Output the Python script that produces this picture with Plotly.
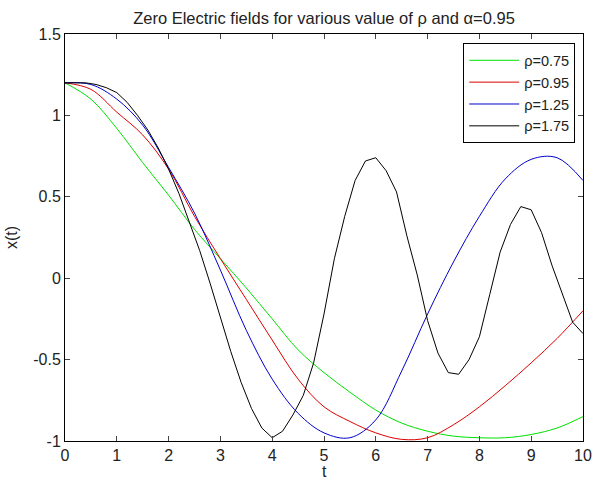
import plotly.graph_objects as go

# ---- data ----
t_smooth = [0, 0.5, 1.0, 1.5, 2.0, 2.5, 3.0, 3.5, 4.0, 4.5, 5.0, 5.5, 6.0, 6.5, 7.0, 7.5, 8.0, 8.5, 9.0, 9.5, 10.0]
x_rho075 = [1.2, 1.10, 0.92, 0.71, 0.51, 0.30, 0.12, -0.06, -0.25, -0.44, -0.58, -0.70, -0.81, -0.89, -0.94, -0.97, -0.98, -0.98, -0.96, -0.92, -0.85]
x_rho095 = [1.2, 1.16, 1.02, 0.88, 0.67, 0.38, 0.12, -0.13, -0.38, -0.62, -0.79, -0.88, -0.95, -0.99, -0.98, -0.90, -0.79, -0.66, -0.52, -0.37, -0.20]
x_rho125 = [1.2, 1.19, 1.10, 0.94, 0.68, 0.40, 0.05, -0.32, -0.62, -0.83, -0.95, -0.98, -0.87, -0.57, -0.22, 0.10, 0.38, 0.61, 0.73, 0.74, 0.60]

t_fine = [0, 0.2, 0.4, 0.6, 0.8, 1.0, 1.2, 1.4, 1.6, 1.8, 2.0, 2.2, 2.4, 2.6, 2.8, 3.0, 3.2, 3.4, 3.6, 3.8,
          4.0, 4.2, 4.4, 4.6, 4.8, 5.0, 5.2, 5.4, 5.6, 5.8, 6.0, 6.2, 6.4, 6.6, 6.8, 7.0, 7.2, 7.4, 7.6, 7.8,
          8.0, 8.2, 8.4, 8.6, 8.8, 9.0, 9.2, 9.4, 9.6, 9.8, 10.0]
x_rho175 = [1.2, 1.2, 1.2, 1.19, 1.17, 1.14, 1.08, 1.00, 0.91, 0.80, 0.67, 0.52, 0.35, 0.17, -0.03, -0.24, -0.45, -0.64, -0.80, -0.92,
            -0.98, -0.94, -0.84, -0.72, -0.52, -0.22, 0.12, 0.38, 0.60, 0.72, 0.74, 0.66, 0.53, 0.26, 0.02, -0.26, -0.46, -0.58, -0.59, -0.50,
            -0.36, -0.10, 0.16, 0.33, 0.44, 0.42, 0.28, 0.08, -0.10, -0.27, -0.34]

series = [
    ("ρ=0.75", t_smooth, x_rho075, "#00e000", "spline"),
    ("ρ=0.95", t_smooth, x_rho095, "#dd0000", "spline"),
    ("ρ=1.25", t_smooth, x_rho125, "#0000cc", "spline"),
    ("ρ=1.75", t_fine, x_rho175, "#000000", "linear"),
]

x_ticks = list(range(0, 11))
y_ticks = [-1, -0.5, 0, 0.5, 1, 1.5]
y_tick_text = ["-1", "-0.5", "0", "0.5", "1", "1.5"]

fig = go.Figure()
for name, tt, vv, col, shape in series:
    fig.add_trace(go.Scatter(x=tt, y=vv, mode="lines", name=name,
                             line=dict(color=col, width=1, shape=shape)))

font = "Liberation Sans, Arial, Helvetica, sans-serif"
plot_h = 481 - 34 - 40
fig.update_layout(
    width=592, height=481,
    margin=dict(l=65, r=9, t=34, b=40),
    paper_bgcolor="white", plot_bgcolor="white",
    font=dict(family=font, size=16, color="#222222"),
    title=dict(text="Zero Electric fields for various value of ρ and α=0.95",
               x=0.5, xanchor="center", xref="paper", y=1 - 18 / 481, yanchor="middle",
               font=dict(size=16.5)),
    showlegend=True,
    legend=dict(x=0.985, y=0.977, xanchor="right", yanchor="top",
                bordercolor="black", borderwidth=1, bgcolor="white",
                font=dict(size=14.5), tracegroupgap=0, itemwidth=50),
    annotations=[dict(text="t", xref="paper", yref="paper", x=0.5, y=-31 / plot_h,
                      xanchor="center", yanchor="middle", showarrow=False,
                      font=dict(size=16))],
)
fig.update_xaxes(range=[0, 10], tickvals=x_ticks, ticks="inside", ticklen=5,
                 showline=True, linecolor="black", linewidth=1, mirror="ticks",
                 showgrid=False, zeroline=False, automargin=False,
                 tickfont=dict(size=16))
fig.update_yaxes(range=[-1, 1.5], tickvals=y_ticks, ticktext=y_tick_text, ticks="inside", ticklen=5,
                 showline=True, linecolor="black", linewidth=1, mirror="ticks",
                 showgrid=False, zeroline=False, automargin=False,
                 title=dict(text="x(t)", standoff=11, font=dict(size=16)), tickfont=dict(size=16))

fig.write_html("out.html")
